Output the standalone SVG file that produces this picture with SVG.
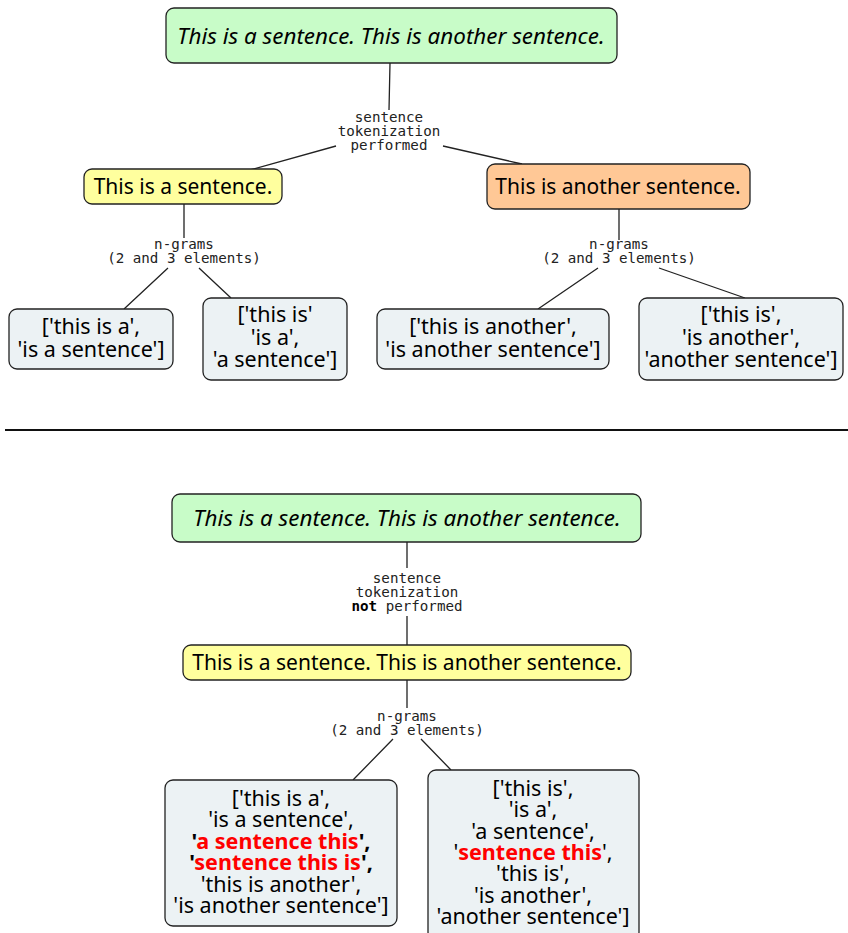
<svg xmlns="http://www.w3.org/2000/svg" width="848" height="933" viewBox="0 0 848 933">
<style>
.box{stroke:#222;stroke-width:1.3}
.g{fill:#c8fcc8}.y{fill:#ffff9e}.o{fill:#ffc896}.l{fill:#ecf2f4}
.t{font-family:"Noto Sans","Open Sans",sans-serif;font-size:21px;fill:#000;text-anchor:middle}
.k{font-size:21.5px}
.i{font-style:italic;font-size:22.4px}
.m{font-family:"DejaVu Sans Mono","Liberation Mono",monospace;font-size:14.2px;fill:#222;text-anchor:middle}
.r{fill:#ff0000;font-weight:bold}
.b{font-weight:bold}
.c{stroke:#222;stroke-width:1.3;fill:none}
</style>
<rect width="848" height="933" fill="#fff"/>
<g id="connectors">
<path class="c" d="M390 63L389 110M336 146L250 170M443 146L522 164"/>
<path class="c" d="M184 204L184 238M168 268L124 309M199 268L231 298"/>
<path class="c" d="M619 209L619 240M598 268L538 309M659 268L745 298"/>
<path class="c" d="M407 542L407 568M407 616L407 645M407 680L407 708M393 739L353 780M421 739L451 770"/>
</g>
<g id="labels">
<text class="m" x="389" y="122">sentence<tspan x="389" dy="14">tokenization</tspan><tspan x="389" dy="14">performed</tspan></text>
<text class="m" x="184" y="249">n-grams<tspan x="184" dy="14">(2 and 3 elements)</tspan></text>
<text class="m" x="619" y="249">n-grams<tspan x="619" dy="14">(2 and 3 elements)</tspan></text>
<text class="m" x="407" y="583">sentence<tspan x="407" dy="14">tokenization</tspan><tspan x="407" dy="14"><tspan class="b" fill="#000">not</tspan> performed</tspan></text>
<text class="m" x="407" y="721">n-grams<tspan x="407" dy="14">(2 and 3 elements)</tspan></text>
</g>
<g id="top1"><rect class="box g" x="166" y="8" width="451" height="55" rx="8"/><text class="t i" x="391" y="44">This is a sentence. This is another sentence.</text></g>
<g id="s1"><rect class="box y" x="84" y="169" width="198" height="35" rx="8"/><text class="t" x="183" y="194">This is a sentence.</text></g>
<g id="s2"><rect class="box o" x="487" y="164" width="263" height="45" rx="8"/><text class="t" x="618" y="194">This is another sentence.</text></g>
<g id="leaf1"><rect class="box l" x="9" y="309" width="164" height="60" rx="8"/><text class="t k" x="91" y="334">['this is a',<tspan x="91" dy="23">'is a sentence']</tspan></text></g>
<g id="leaf2"><rect class="box l" x="203" y="298" width="144" height="82" rx="8"/><text class="t k" x="275" y="322">['this is'<tspan x="275" dy="22.5">'is a',</tspan><tspan x="275" dy="22.5">'a sentence']</tspan></text></g>
<g id="leaf3"><rect class="box l" x="377" y="309" width="232" height="60" rx="8"/><text class="t k" x="493" y="334">['this is another',<tspan x="493" dy="23">'is another sentence']</tspan></text></g>
<g id="leaf4"><rect class="box l" x="639" y="298" width="204" height="82" rx="8"/><text class="t k" x="741" y="322">['this is',<tspan x="741" dy="22.5">'is another',</tspan><tspan x="741" dy="22.5">'another sentence']</tspan></text></g>
<line x1="5" y1="430" x2="848" y2="430" stroke="#111" stroke-width="2"/>
<g id="top2"><rect class="box g" x="172" y="494" width="469" height="48" rx="8"/><text class="t i" x="407" y="526">This is a sentence. This is another sentence.</text></g>
<g id="s3"><rect class="box y" x="183" y="645" width="448" height="35" rx="8"/><text class="t" x="407" y="670">This is a sentence. This is another sentence.</text></g>
<g id="leaf5"><rect class="box l" x="165" y="780" width="232" height="146" rx="8"/>
<text class="t k" x="281" y="806">['this is a',<tspan x="281" dy="21.4">'is a sentence',</tspan><tspan x="281" dy="21.4"><tspan class="b">'</tspan><tspan class="r">a sentence this</tspan><tspan class="b">',</tspan></tspan><tspan x="281" dy="21.4"><tspan class="b">'</tspan><tspan class="r">sentence this is</tspan><tspan class="b">',</tspan></tspan><tspan x="281" dy="21.4">'this is another',</tspan><tspan x="281" dy="21.4">'is another sentence']</tspan></text>
</g>
<g id="leaf6"><rect class="box l" x="428" y="770" width="211" height="170" rx="8"/>
<text class="t k" x="533" y="796">['this is',<tspan x="533" dy="21.3">'is a',</tspan><tspan x="533" dy="21.3">'a sentence',</tspan><tspan x="533" dy="21.3">'<tspan class="r">sentence this</tspan>',</tspan><tspan x="533" dy="21.3">'this is',</tspan><tspan x="533" dy="21.3">'is another',</tspan><tspan x="533" dy="21.3">'another sentence']</tspan></text>
</g>
</svg>
